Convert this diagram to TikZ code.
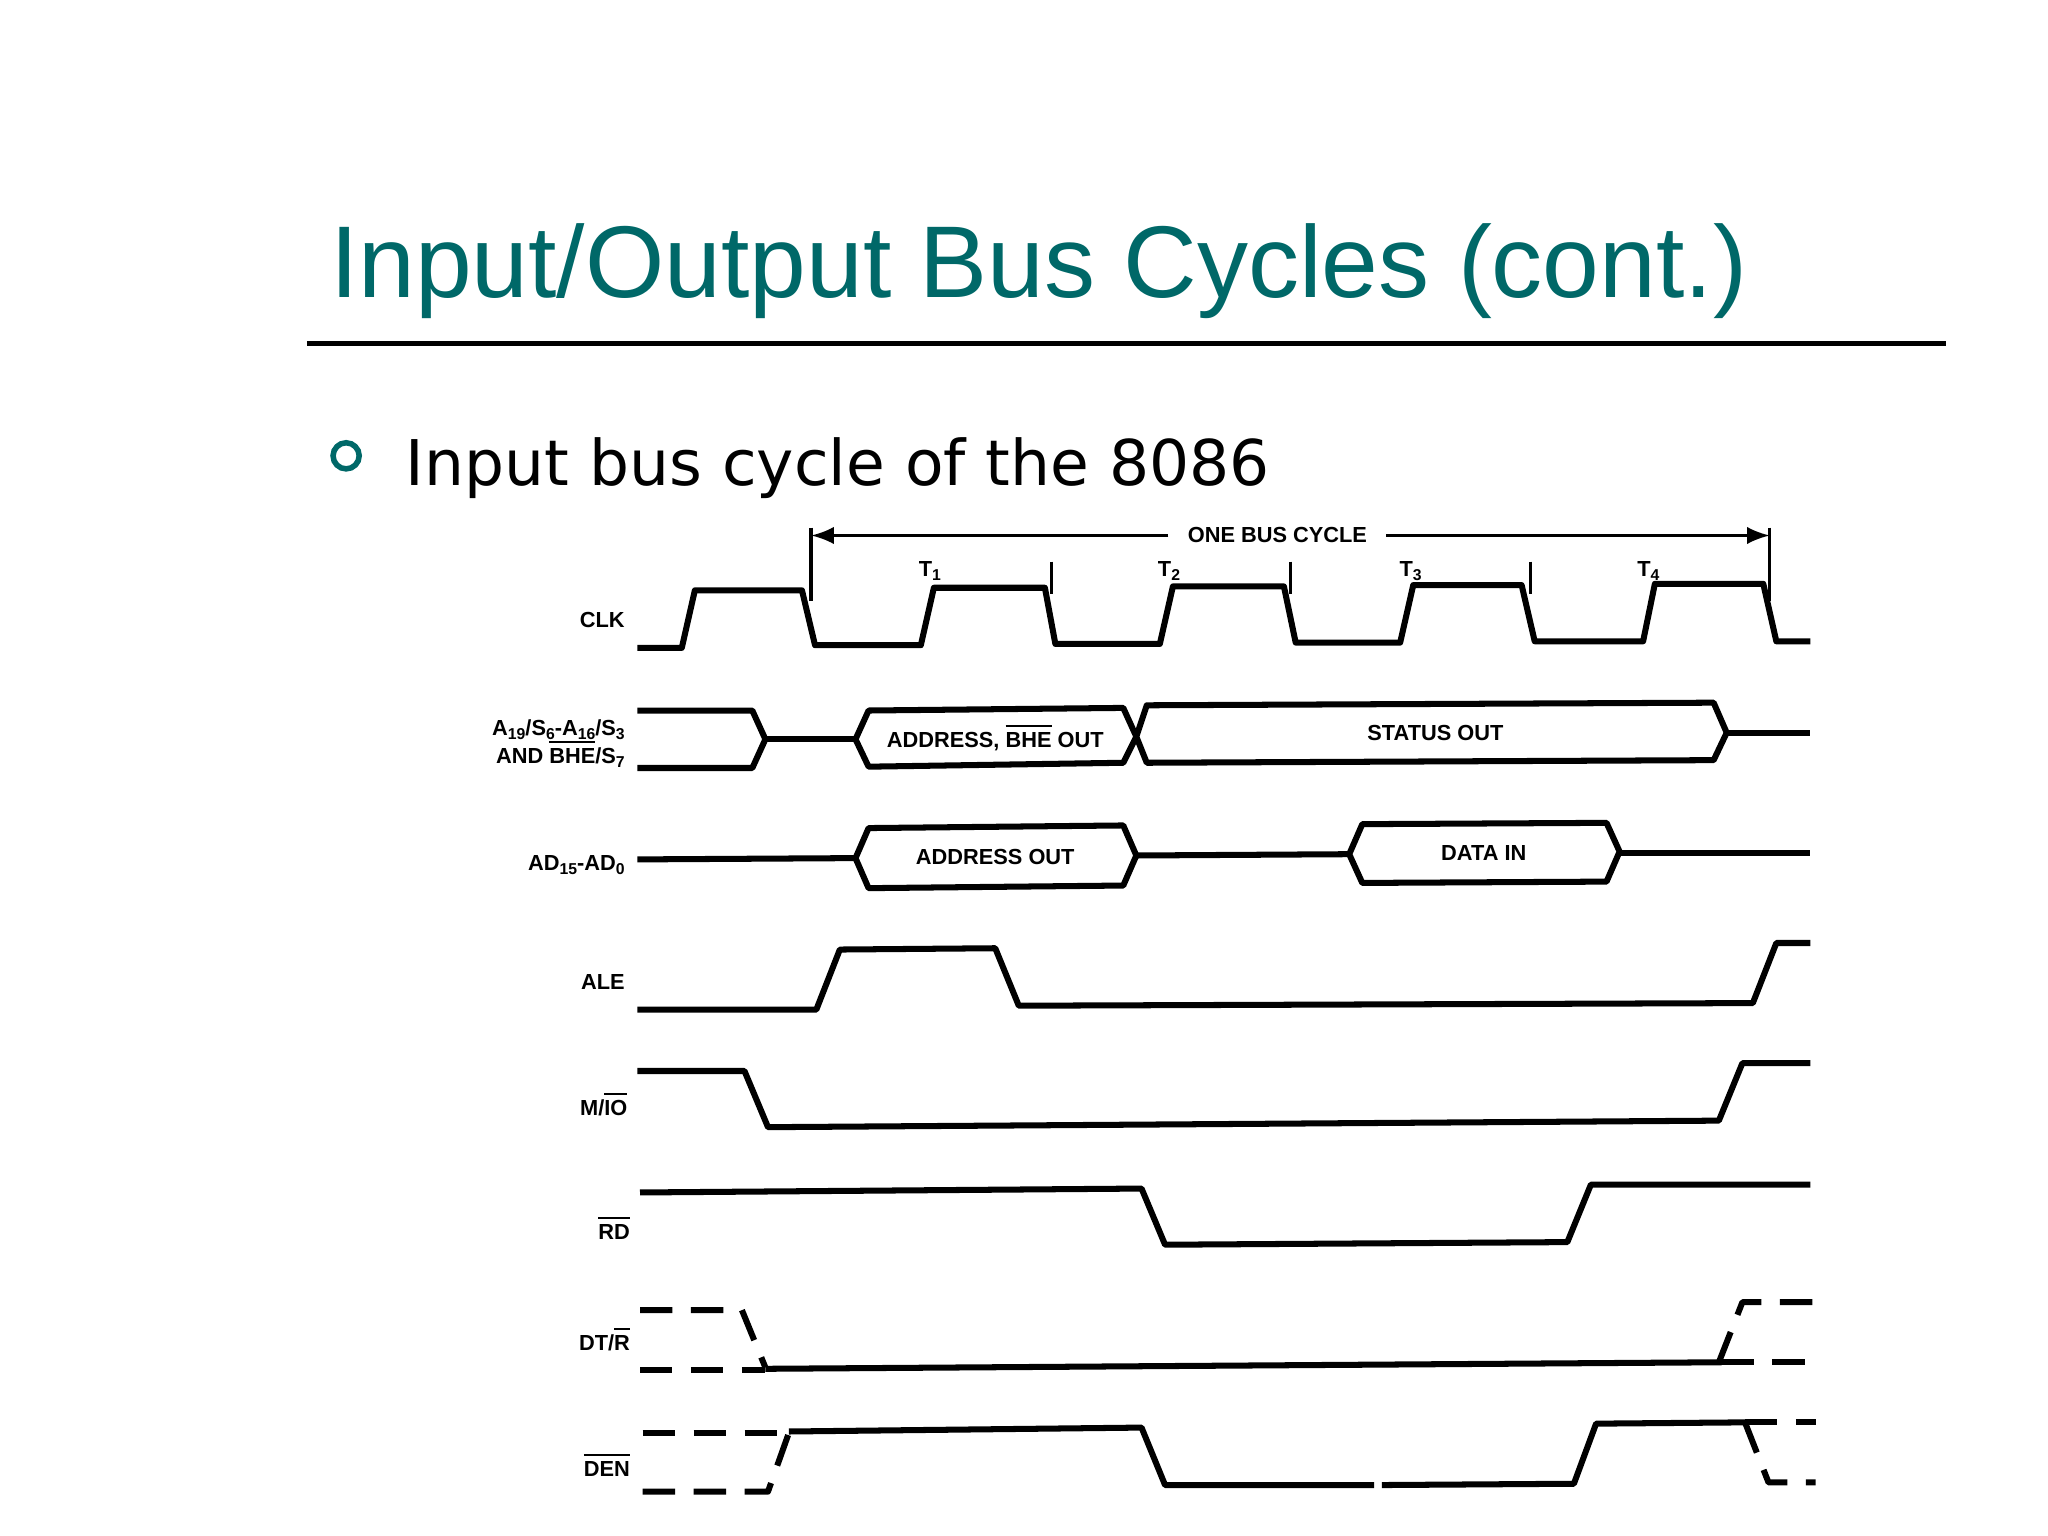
\documentclass[tikz,border=0pt]{standalone}
\usepackage{fontspec}
\setmainfont{Liberation Sans}
\newfontfamily\verd{DejaVu Sans}
\definecolor{teal1}{RGB}{0,104,104}
\newcommand{\sbs}[1]{\raisebox{-0.35ex}{\fontsize{3.4}{4}\selectfont #1}}
\newcommand{\ovl}[1]{$\overline{\mbox{#1}}$}
\begin{document}
\begin{tikzpicture}[x=0.0099cm,y=-0.0099cm,
  sig/.style={line width=1.3pt,line join=round},
  dsig/.style={sig,dash pattern=on 7pt off 4pt},
  lbl/.style={font=\fontsize{4.7}{5.2}\selectfont\bfseries,inner sep=0pt},
  tick/.style={line width=0.7pt}]
\useasboundingbox (0,0) rectangle (1568,1176);
\node[teal1,anchor=base west,inner sep=0pt,font=\fontsize{22}{24}\selectfont] (title) at (252,228) {Input/Output Bus Cycles (cont.)};
\draw[line width=0.9pt] (235,263) -- (1490,263);
\draw[teal1,line width=1.2pt] (265,349) circle (10);
\node[anchor=base west,inner sep=0pt,font=\verd\fontsize{13.6}{16}\selectfont] (sub) at (310,372) {Input bus cycle of the 8086};
% timing header
\foreach \x/\a/\b in {621/404/460,805/430/455,988/430/455,1172/430/455,1355/404/460}
  \draw[tick] (\x,\a) -- (\x,\b);
\node[lbl,fill=white,inner xsep=4pt] (obc) at (978,410) {ONE BUS CYCLE};
\draw[tick,-latex] (obc.west) -- (621,410);
\draw[tick,-latex] (obc.east) -- (1355,410);
\foreach \x/\i in {712/1,895/2,1080/3,1262/4}
  \node[lbl] (t\i) at (\x,437) {T\sbs{\i}};
% labels
\node[lbl,anchor=east] (lclk) at (479,475) {CLK};
\node[lbl,anchor=east] (la1) at (479,559) {A\sbs{19}/S\sbs{6}-A\sbs{16}/S\sbs{3}};
\node[lbl,anchor=east] (la2) at (479,577) {AND \ovl{BHE}/S\sbs{7}};
\node[lbl,anchor=east] (lad) at (479,662) {AD\sbs{15}-AD\sbs{0}};
\node[lbl,anchor=east] (lale) at (479,752) {ALE};
\node[lbl,anchor=east] (lmio) at (481,845) {M/\ovl{IO}};
\node[lbl,anchor=east] (lrd) at (483,940) {\ovl{RD}};
\node[lbl,anchor=east] (ldt) at (483,1025) {DT/\ovl{R}};
\node[lbl,anchor=east] (lden) at (483,1121) {\ovl{DEN}};
% CLK
\draw[sig] (488,496) -- (522,496) -- (532,452) -- (614,452) -- (624,494) -- (705,494) -- (715,450) -- (800,450) -- (808,493) -- (888,493) -- (898,449) -- (983,449) -- (992,492) -- (1072,492) -- (1082,448) -- (1165,448) -- (1175,491) -- (1258,491) -- (1267,447) -- (1350,447) -- (1360,491) -- (1386,491);
% Address/status
\draw[sig] (488,544) -- (576,544) -- (586,566) -- (576,588) -- (488,588);
\draw[sig] (586,566) -- (655,566);
\draw[sig] (655,566) -- (665,544) -- (860,542) -- (870,564) -- (860,584) -- (665,587) -- cycle;
\draw[sig] (870,564) -- (878,540) -- (1312,538) -- (1322,561) -- (1312,582) -- (878,584) -- cycle;
\draw[sig] (1322,561) -- (1386,561);
\node[lbl] (addr) at (762,564) {ADDRESS, \ovl{BHE} OUT};
\node[lbl] (stat) at (1099,561) {STATUS OUT};
% AD
\draw[sig] (488,658) -- (655,657);
\draw[sig] (655,657) -- (665,634) -- (860,632) -- (870,655) -- (860,678) -- (665,680) -- cycle;
\draw[sig] (870,655) -- (1033,654);
\draw[sig] (1033,654) -- (1043,631) -- (1230,630) -- (1240,652) -- (1230,675) -- (1043,676) -- cycle;
\draw[sig] (1240,653) -- (1386,653);
\node[lbl] (ao) at (762,656) {ADDRESS OUT};
\node[lbl] (di) at (1136,653) {DATA IN};
% ALE
\draw[sig] (488,773) -- (625,773) -- (643,727) -- (762,726) -- (780,770) -- (1342,768) -- (1360,722) -- (1386,722);
% M/IO
\draw[sig] (488,820) -- (570,820) -- (588,863) -- (1316,858) -- (1334,814) -- (1386,814);
% RD
\draw[sig] (490,913) -- (874,910) -- (892,953) -- (1200,951) -- (1218,907) -- (1386,907);
% DT/R
\draw[dsig] (490,1003) -- (568,1003) -- (586,1047);
\draw[dsig] (490,1049) -- (586,1049);
\draw[sig] (586,1048) -- (1318,1043);
\draw[dsig] (1316,1043) -- (1334,997) -- (1390,997);
\draw[dsig] (1318,1043) -- (1390,1043);
% DEN
\draw[dsig] (492,1097) -- (604,1097);
\draw[dsig] (492,1142) -- (588,1142) -- (604,1097);
\draw[sig] (604,1096) -- (874,1093) -- (892,1137) -- (1052,1137);
\draw[sig] (1058,1137) -- (1205,1136) -- (1222,1090) -- (1336,1089);
\draw[dsig] (1336,1089) -- (1390,1089);
\draw[dsig] (1336,1089) -- (1354,1135) -- (1390,1135);
\end{tikzpicture}
\end{document}
